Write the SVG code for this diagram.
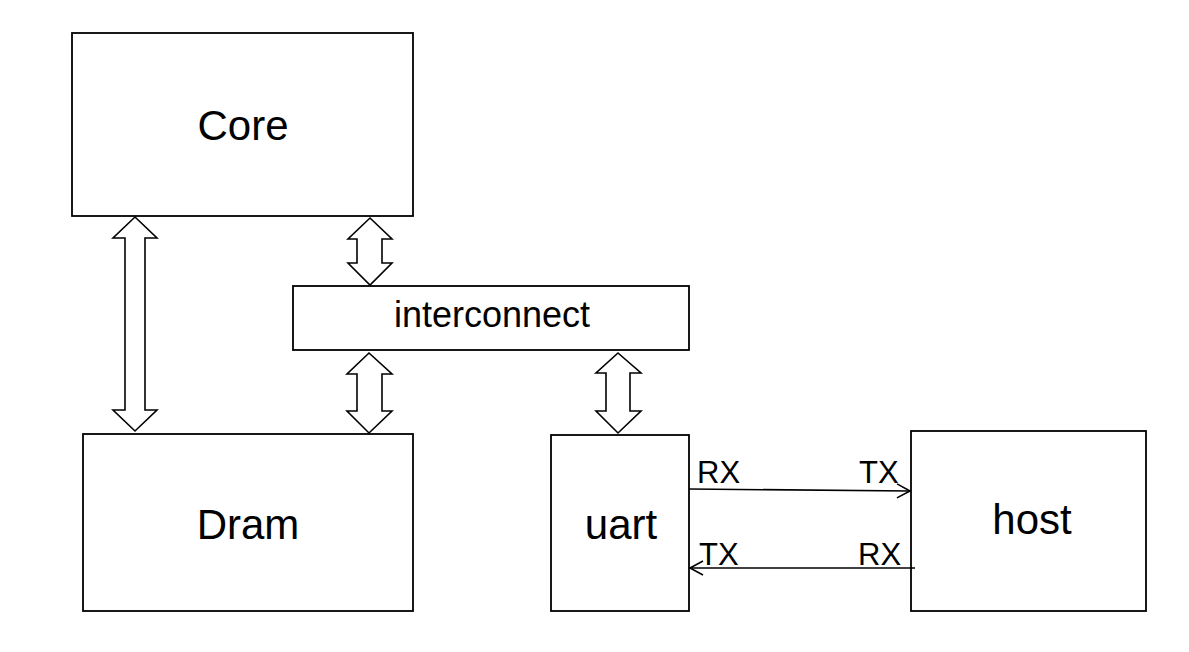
<svg xmlns="http://www.w3.org/2000/svg" width="1189" height="652" viewBox="0 0 1189 652">
<defs>
<style>
.box{fill:#fff;stroke:#000;stroke-width:1.8}
.big{font-family:"Liberation Sans",Arial,sans-serif;font-size:42px;fill:#000;text-anchor:middle}
.mid{font-family:"Liberation Sans",Arial,sans-serif;font-size:36px;fill:#000;text-anchor:middle}
.lbl{font-family:"Liberation Sans",Arial,sans-serif;font-size:31px;fill:#000}
.barrow{fill:#fff;stroke:#000;stroke-width:1.6;stroke-linejoin:miter}
.line{fill:none;stroke:#000;stroke-width:1.6}
</style>
<marker id="open" markerWidth="16" markerHeight="16" refX="14" refY="8" orient="auto" markerUnits="userSpaceOnUse">
<path d="M1,1 L14,8 L1,15" fill="none" stroke="#000" stroke-width="1.6"/>
</marker>
</defs>
<rect width="1189" height="652" fill="#fff"/>
<g id="core"><rect class="box" x="72" y="33" width="341" height="183"/><text class="big" x="243" y="140">Core</text></g>
<g id="dram"><rect class="box" x="83" y="434" width="330" height="177"/><text class="big" x="248" y="539">Dram</text></g>
<g id="interconnect"><rect class="box" x="293" y="286" width="396" height="64"/><text class="mid" x="492" y="327">interconnect</text></g>
<g id="uart"><rect class="box" x="551" y="435" width="138" height="176"/><text class="big" x="621" y="539">uart</text></g>
<g id="host"><rect class="box" x="911" y="431" width="235" height="180"/><text class="big" x="1032" y="534">host</text></g>
<g id="connectors">
<polygon class="barrow" points="135,217 157,238 145,238 145,410 157,410 135,431 113,410 125,410 125,238 113,238"/>
<polygon class="barrow" points="370,218 392,239 382,239 382,263 392,263 370,285 348,263 357,263 357,239 348,239"/>
<polygon class="barrow" points="369,353 392,374 382,374 382,411 392,411 369,433 347,411 357,411 357,374 347,374"/>
<polygon class="barrow" points="618,353 641,373 630,373 630,411 641,411 618,433 596,411 606,411 606,373 596,373"/>
<line class="line" x1="689" y1="489" x2="910" y2="491" marker-end="url(#open)"/>
<line class="line" x1="915" y1="568" x2="690" y2="568" marker-end="url(#open)"/>
<text class="lbl" x="697" y="483">RX</text>
<text class="lbl" x="859" y="483">TX</text>
<text class="lbl" x="699" y="565">TX</text>
<text class="lbl" x="858" y="565">RX</text>
</g>
</svg>
